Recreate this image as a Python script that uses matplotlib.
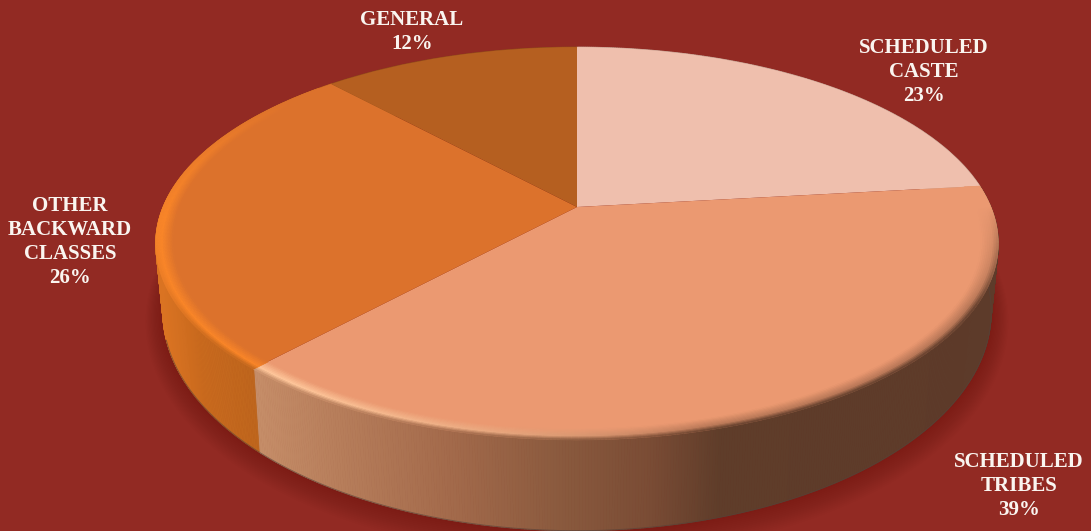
import numpy as np
import matplotlib
matplotlib.use("Agg")
import matplotlib.pyplot as plt
from matplotlib.transforms import Transform
from matplotlib.collections import PolyCollection
from matplotlib.colors import to_rgb

# ---- data
categories = ["SCHEDULED\nCASTE", "SCHEDULED\nTRIBES", "OTHER\nBACKWARD\nCLASSES", "GENERAL"]
shares = [23.2, 38.6, 26.4, 11.8]

# ---- style
BG = "#922A23"
TOP_COLORS = ["#EFBFAD", "#EB9971", "#DC722C", "#B55F20"]
LABEL_XY = [(924, 72), (1019, 486), (70, 242), (412, 32)]
TOP = dict(cx=577, cy=207, a=414, b=189.7, k=0.186)
BOT = dict(cx=577, cy=271, a=407, b=211.4, k=0.186)


def project(u, v, g):
    d = 1 + g["k"] * v
    return g["cx"] + g["a"] * u / d, g["cy"] - g["b"] * v / d


class Tilt(Transform):
    input_dims = output_dims = 2
    has_inverse = False
    is_separable = False

    def __init__(self, g):
        super().__init__()
        self.g = g

    def transform_non_affine(self, values):
        values = np.asarray(values)
        x, y = project(values[:, 0], values[:, 1], self.g)
        return np.column_stack([x, y])


fig = plt.figure(figsize=(10.91, 5.31), dpi=100, facecolor=BG)
ax = fig.add_axes([0, 0, 1, 1])

wedges, _ = ax.pie(shares, startangle=90, counterclock=False, colors=TOP_COLORS,
                   wedgeprops=dict(linewidth=0, zorder=5))
ax.set_aspect("auto")
ax.set_xlim(0, 1091)
ax.set_ylim(531, 0)
ax.set_axis_off()
fig.patch.set_facecolor(BG)

tilt = Tilt(TOP) + ax.transData
for w in wedges:
    w.set_transform(tilt)

edges = np.cumsum([0] + shares) / sum(shares)


def circle(f, r=1.0):
    th = np.pi / 2 - 2 * np.pi * f
    return r * np.cos(th), r * np.sin(th)


def slice_index(f):
    return np.clip(np.searchsorted(edges, f, side="right") - 1, 0, len(shares) - 1)


def hexes(lst):
    return np.array([to_rgb(c) for c in lst])


ST_X = [258, 330, 450, 560, 650, 720, 1000]
ST_C = hexes(["#C58D68", "#B87F5C", "#A36A4B", "#8A5A3E", "#7A4C35", "#5F3D2A", "#5D3B2A"])
OBC_X = [160, 200, 260]
OBC_C = hexes(["#DA7322", "#C96A1E", "#BD651D"])


def ramp(x, xs, cs):
    return np.array([np.interp(x, xs, cs[:, i]) for i in range(3)])


def wall_color(f, x):
    i = slice_index(f)
    if i == 1:
        return ramp(x, ST_X, ST_C)
    if i == 2:
        return ramp(x, OBC_X, OBC_C)
    return np.array(to_rgb(TOP_COLORS[i])) * 0.8


# soft shadow on the background
n_shadow = 14
fs = np.linspace(0, 1, 361)
for j in range(n_shadow, 0, -1):
    grow = dict(BOT)
    grow["a"] = BOT["a"] + j * 1.2
    grow["b"] = BOT["b"] + j * 1.1
    grow["cy"] = BOT["cy"] + j * 0.5
    sx, sy = project(*circle(fs), grow)
    ax.fill(sx, sy, color="#5A1510", alpha=0.022, lw=0, zorder=1)

# side wall, one strip per step of the circle
fw = np.linspace(0, 1, 1081)
mid = 0.5 * (fw[:-1] + fw[1:])
quads, cols = [], []
for f0, f1, fm in zip(fw[:-1], fw[1:], mid):
    x0, y0 = project(*circle(f0), TOP)
    x1, y1 = project(*circle(f1), TOP)
    x2, y2 = project(*circle(f1), BOT)
    x3, y3 = project(*circle(f0), BOT)
    quads.append([(x0, y0), (x1, y1), (x2, y2), (x3, y3)])
    cols.append(wall_color(fm, 0.5 * (x0 + x1)))
ax.add_collection(PolyCollection(quads, facecolors=cols, edgecolors=cols, linewidths=0.6, zorder=3))

# thin line under the wall
fl = np.linspace(0.24, 0.70, 300)
lx, ly = project(*circle(fl), BOT)
ax.plot(lx, ly, color="#55423A", lw=0.7, alpha=0.6, zorder=4)

# bevel on the rim of the top face
fr = np.linspace(edges[1], 0.875, 561)
rs = np.linspace(0.96, 1.0, 11)
HL = [None, to_rgb("#FFC79B"), to_rgb("#FA8628"), None]
quads, cols = [], []
for f0, f1 in zip(fr[:-1], fr[1:]):
    fm = 0.5 * (f0 + f1)
    i = slice_index(fm)
    top = np.array(to_rgb(TOP_COLORS[i]))
    xm, _ = project(*circle(fm), TOP)
    wall = wall_color(fm, xm)
    if i == 1:
        s = np.interp(fm, [0.23, 0.46, 0.53, 0.60], [0, 0, 0.55, 1])
        dark = np.interp(fm, [0.25, 0.33], [0.0, 1])
        hl = np.array(HL[1])
        edge = top + (wall - top) * dark
    else:
        s = np.interp(fm, [0.62, 0.74, 0.86], [1, 1, 0])
        hl = np.array(HL[2])
        blend = np.interp(fm, [0.64, 0.73], [0, 1])
        edge = wall + ((top + (hl - top) * s * 0.9) - wall) * blend
    midc = top + (edge - top) * 0.35
    midc = midc + (hl - midc) * s
    for r0, r1 in zip(rs[:-1], rs[1:]):
        t = (0.5 * (r0 + r1) - rs[0]) / (rs[-1] - rs[0])
        c = np.array([np.interp(t, [0, 0.65, 1], [top[n], midc[n], edge[n]]) for n in range(3)])
        pts = []
        for ff, rr in ((f0, r0), (f1, r0), (f1, r1), (f0, r1)):
            pts.append(project(*circle(ff, rr), TOP))
        quads.append(pts)
        cols.append(c)
ax.add_collection(PolyCollection(quads, facecolors=cols, edgecolors=cols, linewidths=0.4, zorder=6))

# labels
for name, share, (lx_, ly_) in zip(categories, shares, LABEL_XY):
    ax.text(lx_, ly_, f"{name}\n{share:.0f}%", ha="center", va="center", color="#FAF5F0",
            fontfamily="Liberation Serif", fontweight="bold", fontsize=15,
            linespacing=1.26, zorder=10)

fig.savefig("out.png", dpi=100, facecolor=BG)
